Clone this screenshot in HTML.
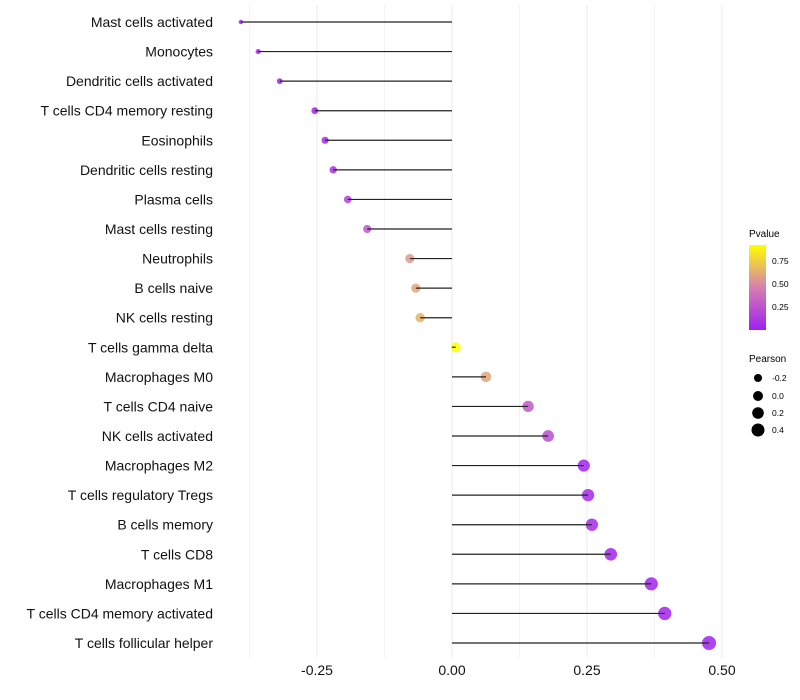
<!DOCTYPE html>
<html><head><meta charset="utf-8"><style>
body{margin:0;background:#fff;font-family:"Liberation Sans",sans-serif;}
svg{display:block}
</style></head><body>
<svg id="chart" width="800" height="700">
<defs><linearGradient id="pg" x1="0" y1="1" x2="0" y2="0">
<stop offset="0" stop-color="#a020f0"/><stop offset="0.5" stop-color="#d57fb0"/><stop offset="1" stop-color="#ffff00"/></linearGradient></defs>
<g id="grid"></g><g id="dots"></g><g id="marks"></g><g id="labels"></g>
<g font-size="10">
<text x="749" y="237">Pvalue</text>
<rect x="749" y="245" width="17" height="85" fill="url(#pg)"/>
<text x="772" y="264" font-size="8.5">0.75</text>
<text x="772" y="287" font-size="8.5">0.50</text>
<text x="772" y="310" font-size="8.5">0.25</text>
</g>
<g font-size="10">
<text x="749" y="362">Pearson</text>
<circle cx="758" cy="378" r="4"/>
<circle cx="758" cy="396" r="5"/>
<circle cx="758" cy="413" r="5.8"/>
<circle cx="758" cy="430" r="6.5"/>
<text x="772" y="381" font-size="8.5">-0.2</text>
<text x="772" y="399" font-size="8.5">0.0</text>
<text x="772" y="416" font-size="8.5">0.2</text>
<text x="772" y="433" font-size="8.5">0.4</text>
</g>
</svg>
<script>
const categories=["Mast cells activated","Monocytes","Dendritic cells activated","T cells CD4 memory resting","Eosinophils","Dendritic cells resting","Plasma cells","Mast cells resting","Neutrophils","B cells naive","NK cells resting","T cells gamma delta","Macrophages M0","T cells CD4 naive","NK cells activated","Macrophages M2","T cells regulatory  Tregs ","B cells memory","T cells CD8","Macrophages M1","T cells CD4 memory activated","T cells follicular helper"];
const pearson=[-0.391,-0.359,-0.319,-0.254,-0.235,-0.220,-0.193,-0.157,-0.078,-0.067,-0.059,0.007,0.063,0.141,0.178,0.244,0.252,0.259,0.294,0.369,0.394,0.476];
const pvalue=[0.02,0.02,0.02,0.03,0.05,0.08,0.15,0.25,0.55,0.6,0.65,0.92,0.6,0.27,0.22,0.03,0.04,0.05,0.02,0.02,0.02,0.01];
const xTicks=[-0.25,0,0.25,0.5];
const xTickLabels=["-0.25","0.00","0.25","0.50"];
const NS="http://www.w3.org/2000/svg";
const x=v=>452+v*540;
const y=i=>22+i*(621/21);
function mk(t,a,p){const e=document.createElementNS(NS,t);for(const k in a)e.setAttribute(k,a[k]);p.appendChild(e);return e;}
function lerp(a,b,t){return Math.round(a+(b-a)*t);}
function col(p){const t=Math.min(1,p/0.92);const s=[[160,32,240],[213,127,176],[255,255,0]];let a,b,u;if(t<0.5){a=s[0];b=s[1];u=t*2;}else{a=s[1];b=s[2];u=(t-0.5)*2;}return `rgb(${lerp(a[0],b[0],u)},${lerp(a[1],b[1],u)},${lerp(a[2],b[2],u)})`;}
const grid=document.getElementById('grid'),dots=document.getElementById('dots'),marks=document.getElementById('marks'),labels=document.getElementById('labels');
[-0.375,-0.25,-0.125,0,0.125,0.25,0.375,0.5].forEach(v=>{
const l=mk('line',{x1:x(v),x2:x(v),y1:5,y2:658,stroke:'#ebebeb','stroke-width':Number.isInteger(v*4)?1:0.6},grid);


});
const mn=Math.min(...pearson),mx=Math.max(...pearson);
categories.forEach((c,i)=>{
const r=Math.sqrt(2.2*2.2+(pearson[i]-mn)/(mx-mn)*(49-4.84));
const d=mk('circle',{cx:x(pearson[i]),cy:y(i),r:r,fill:col(pvalue[i]),'fill-opacity':0.85},dots);


const s=mk('line',{x1:x(0),x2:x(pearson[i]),y1:y(i),y2:y(i),stroke:'#222','stroke-width':1.2},marks);


const t=mk('text',{x:213,y:y(i)+5,'text-anchor':'end','font-size':14,fill:'#111'},labels);
t.textContent=c;


});
xTicks.forEach((v,i)=>{
const t=mk('text',{x:x(v),y:675,'text-anchor':'middle','font-size':14,fill:'#111'},labels);
t.textContent=xTickLabels[i];


});
</script>
</body></html>
